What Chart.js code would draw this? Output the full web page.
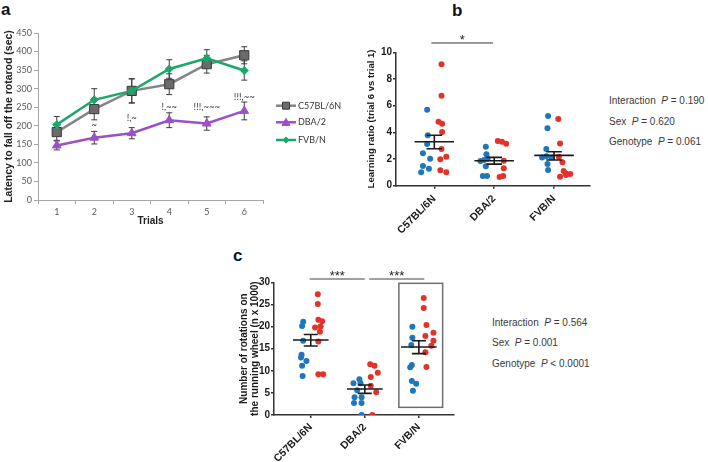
<!DOCTYPE html>
<html>
<head>
<meta charset="utf-8">
<script src="https://cdn.jsdelivr.net/npm/chart.js@4.4.1/dist/chart.umd.min.js"></script>
<style>
  body { margin: 0; background: #fff; width: 708px; height: 462px; position: relative; overflow: hidden; font-family: "Liberation Sans", Arial, sans-serif; }
  canvas { position: absolute; }
  .lab { position: absolute; font-weight: bold; font-size: 17px; line-height: 17px; color: #111; }
  .stat { position: absolute; font-size: 10px; line-height: 12px; color: #3a3a3a; white-space: pre; }
</style>
</head>
<body>
<div class="lab" style="left:1px;top:1px">a</div>
<div class="lab" style="left:452px;top:2px">b</div>
<div class="lab" style="left:233px;top:247px">c</div>

<canvas id="rotarod" width="360" height="235" style="left:0;top:0"></canvas>
<canvas id="ratio" width="244" height="230" style="left:356px;top:20px"></canvas>
<canvas id="wheel" width="254" height="212" style="left:226px;top:250px"></canvas>

<div class="stat" style="left:609px;top:95px">Interaction  <i>P</i> = 0.190</div>
<div class="stat" style="left:609px;top:116px">Sex  <i>P</i> = 0.620</div>
<div class="stat" style="left:609px;top:136px">Genotype  <i>P</i> = 0.061</div>

<div class="stat" style="left:492px;top:317px">Interaction  <i>P</i> = 0.564</div>
<div class="stat" style="left:492px;top:337px">Sex  <i>P</i> = 0.001</div>
<div class="stat" style="left:492px;top:358px">Genotype  <i>P</i> &lt; 0.0001</div>

<script>
// ---- data ----
const trials = ["1", "2", "3", "4", "5", "6"];
const c57Latency = [183, 245, 294, 312, 366, 390];
const c57LatencyErr = [22, 29, 33, 28, 24, 23];
const dbaLatency = [147, 168, 180, 215, 206, 240];
const dbaLatencyErr = [12, 17, 15, 20, 18, 24];
const fvbLatency = [203, 270, 294, 353, 382, 349];
const fvbLatencyErr = [22, 30, 32, 25, 23, 26];
const dbaMarks = ["", "~", "!,~", "!,~~", "!!!,~~~", "!!!,~~"];
const dbaMarkLevel = [0, 202, 221, 251, 251, 278];

const genotypes = ["C57BL/6N", "DBA/2", "FVB/N"];

// learning ratio (panel b), blue and red dots per genotype, with horizontal jitter
const ratioBlue = [
  [5.7, 3.78, 3.12, 2.43, 2.02, 1.48, 1.27, 1.0],
  [2.92, 2.35, 2.02, 1.93, 1.85, 1.45, 0.72, 0.72],
  [5.22, 4.3, 2.75, 2.2, 2.12, 2.12, 1.62, 1.18],
];
const ratioBlueJitter = [
  [-0.12, -0.11, -0.12, -0.19, -0.07, -0.19, -0.09, -0.22],
  [-0.14, -0.13, -0.11, -0.17, -0.23, -0.14, -0.19, -0.12],
  [-0.1, -0.11, -0.13, -0.13, -0.2, -0.04, -0.11, -0.1],
];
const ratioRed = [
  [9.1, 6.75, 4.8, 4.65, 4.02, 2.75, 2.17, 1.98, 1.15, 1.0],
  [3.35, 3.3, 3.15, 1.87, 1.3, 0.73, 0.65],
  [5.0, 3.17, 2.17, 1.75, 1.1, 0.93, 0.87, 0.8, 0.68],
];
const ratioRedJitter = [
  [0.12, 0.12, 0.07, 0.13, 0.13, 0.12, 0.2, 0.1, 0.1, 0.2],
  [0.06, 0.13, 0.2, 0.16, 0.16, 0.15, 0.09],
  [0.07, 0.1, 0.08, 0.14, 0.16, 0.19, 0.27, 0.2, 0.1],
];
const ratioMean = [3.3, 1.87, 2.27];
const ratioSemHi = [3.78, 2.12, 2.55];
const ratioSemLo = [2.77, 1.62, 1.93];

// running wheel (panel c)
const wheelBlue = [
  [21.1, 20.1, 16.8, 13.6, 13.0, 12.2, 11.15, 8.8],
  [8.06, 7.16, 7.16, 5.58, 3.99, 3.99, 2.71, 2.71, 0],
  [19.97, 17.48, 15.8, 11.3, 10.78, 7.69, 7.08, 5.5],
];
const wheelBlueJitter = [
  [-0.14, -0.16, -0.14, -0.17, -0.18, -0.08, -0.16, -0.15],
  [-0.1, -0.21, -0.08, -0.14, -0.19, -0.06, -0.2, -0.06, -0.06],
  [-0.12, -0.12, -0.14, -0.13, -0.16, -0.13, -0.05, -0.11],
];
const wheelRed = [
  [27.3, 25.1, 21.55, 21.2, 19.8, 20.0, 18.8, 16.6, 9.2, 9.2],
  [11.45, 11.15, 9.57, 8.59, 6.63, 5.12, 0],
  [26.45, 24.19, 20.35, 18.61, 17.86, 16.8, 15.67, 14.17, 10.85],
];
const wheelRedJitter = [
  [0.13, 0.13, 0.14, 0.21, 0.08, 0.18, 0.17, 0.14, 0.14, 0.23],
  [0.1, 0.18, 0.24, 0.11, 0.11, 0.21, 0.14],
  [0.09, 0.09, 0.14, 0.27, 0.12, 0.27, 0.23, 0.12, 0.14],
];
const wheelMean = [16.96, 5.88, 15.37];
const wheelSemHi = [18.2, 6.78, 16.8];
const wheelSemLo = [15.6, 4.9, 13.87];

const BLUE = "#1f76bd";
const RED = "#e2332a";
const SANS = "'Liberation Sans', Arial, sans-serif";

Chart.defaults.font.family = SANS;

// ---- panel a helpers ----
const errorBars = {
  id: "errorBars",
  beforeDatasetsDraw(chart) {
    const { ctx, scales: { x, y } } = chart;
    ctx.save();
    ctx.strokeStyle = "#3c3c3c";
    ctx.lineWidth = 1;
    chart.data.datasets.forEach((ds) => {
      ds.data.forEach((v, i) => {
        const px = x.getPixelForValue(i);
        const top = y.getPixelForValue(v + ds.err[i]);
        const bot = y.getPixelForValue(v - ds.err[i]);
        ctx.beginPath();
        ctx.moveTo(px, top); ctx.lineTo(px, bot);
        ctx.moveTo(px - 3, top); ctx.lineTo(px + 3, top);
        ctx.moveTo(px - 3, bot); ctx.lineTo(px + 3, bot);
        ctx.stroke();
      });
    });
    ctx.restore();
  },
};

const trialMarks = {
  id: "trialMarks",
  afterDatasetsDraw(chart) {
    const { ctx, scales: { x, y } } = chart;
    ctx.save();
    ctx.font = "9.5px Lato";
    ctx.fillStyle = "#404040";
    ctx.textAlign = "center";
    ctx.textBaseline = "middle";
    dbaMarks.forEach((m, i) => {
      if (!m) return;
      ctx.fillText(m, x.getPixelForValue(i), y.getPixelForValue(dbaMarkLevel[i]));
    });
    ctx.restore();
  },
};

function drawMarker(ctx, style, x, y, r) {
  ctx.beginPath();
  if (style === "rect") {
    ctx.rect(x - r, y - r, 2 * r, 2 * r);
  } else if (style === "triangle") {
    ctx.moveTo(x, y - r);
    ctx.lineTo(x + r, y + r * 0.8);
    ctx.lineTo(x - r, y + r * 0.8);
    ctx.closePath();
  } else {
    ctx.moveTo(x, y - r);
    ctx.lineTo(x + r, y);
    ctx.lineTo(x, y + r);
    ctx.lineTo(x - r, y);
    ctx.closePath();
  }
  ctx.fill();
  ctx.stroke();
}

const lineLegend = {
  id: "lineLegend",
  afterDraw(chart, args, opts) {
    const { ctx } = chart;
    ctx.save();
    ctx.font = "9px Lato";
    ctx.textBaseline = "middle";
    chart.data.datasets.forEach((ds, i) => {
      const yy = opts.rows[i];
      ctx.strokeStyle = ds.borderColor;
      ctx.lineWidth = 2.5;
      ctx.beginPath();
      ctx.moveTo(opts.x0, yy); ctx.lineTo(opts.x1, yy);
      ctx.stroke();
      ctx.fillStyle = ds.pointBackgroundColor;
      ctx.strokeStyle = ds.pointBorderColor;
      ctx.lineWidth = 1;
      drawMarker(ctx, ds.pointStyle, (opts.x0 + opts.x1) / 2, yy, opts.sizes[i]);
      ctx.fillStyle = "#333";
      ctx.fillText(ds.label, opts.textX, yy);
    });
    ctx.restore();
  },
};

new Chart(document.getElementById("rotarod"), {
  type: "line",
  data: {
    labels: trials,
    datasets: [
      {
        label: "C57BL/6N", data: c57Latency, err: c57LatencyErr,
        borderColor: "#858585", borderWidth: 2.5, tension: 0,
        pointStyle: "rect", pointRadius: 6.5, pointBackgroundColor: "#6b6b6b",
        pointBorderColor: "#3a3a3a", pointBorderWidth: 1, order: 2,
      },
      {
        label: "DBA/2", data: dbaLatency, err: dbaLatencyErr,
        borderColor: "#9b50c8", borderWidth: 2.5, tension: 0,
        pointStyle: "triangle", pointRadius: 5, pointBackgroundColor: "#9b50c8",
        pointBorderColor: "#9b50c8", pointBorderWidth: 1, order: 1,
      },
      {
        label: "FVB/N", data: fvbLatency, err: fvbLatencyErr,
        borderColor: "#1aa86a", borderWidth: 2.5, tension: 0,
        pointStyle: "rectRot", pointRadius: 4, pointBackgroundColor: "#1aa86a",
        pointBorderColor: "#1aa86a", pointBorderWidth: 1, order: 0,
      },
    ],
  },
  options: {
    responsive: false,
    animation: false,
    devicePixelRatio: 1,
    layout: { padding: { top: 33, right: 97, left: 0, bottom: 0 } },
    plugins: {
      legend: { display: false },
      tooltip: { enabled: false },
      lineLegend: { x0: 276, x1: 296, textX: 298, rows: [105.7, 122.3, 140], sizes: [3.5, 4, 3] },
    },
    scales: {
      x: {
        offset: true,
        grid: { offset: true, drawOnChartArea: false, tickLength: 4, color: "#a6a6a6" },
        border: { color: "#a6a6a6", width: 1 },
        ticks: { font: { family: "Lato", size: 9 }, color: "#595959", padding: 3 },
        title: { display: true, text: "Trials", font: { weight: "bold", size: 10 }, color: "#222", padding: { top: 0, bottom: 7.5 } },
        afterFit: (s) => { s.height = 35; },
      },
      y: {
        min: 0, max: 450,
        ticks: { stepSize: 50, font: { family: "Lato", size: 9 }, color: "#595959", padding: 2 },
        grid: { drawOnChartArea: false, tickLength: 4, color: "#a6a6a6" },
        border: { color: "#a6a6a6", width: 1 },
        title: { display: true, text: "Latency to fall off the rotarod (sec)", font: { weight: "bold", size: 10.5 }, color: "#222", padding: { top: 2.8, bottom: 0 } },
        afterFit: (s) => { s.width = 38; },
      },
    },
  },
  plugins: [errorBars, trialMarks, lineLegend],
});

// ---- panels b and c ----
const meanSem = {
  id: "meanSem",
  afterDatasetsDraw(chart, args, opts) {
    const { ctx, scales: { x, y } } = chart;
    ctx.save();
    ctx.strokeStyle = "#1a1a1a";
    ctx.lineWidth = 1.6;
    opts.mean.forEach((m, g) => {
      const ym = y.getPixelForValue(m);
      const yh = y.getPixelForValue(opts.hi[g]);
      const yl = y.getPixelForValue(opts.lo[g]);
      ctx.beginPath();
      ctx.moveTo(x.getPixelForValue(g - 0.33), ym); ctx.lineTo(x.getPixelForValue(g + 0.33), ym);
      ctx.moveTo(x.getPixelForValue(g), yh); ctx.lineTo(x.getPixelForValue(g), yl);
      ctx.moveTo(x.getPixelForValue(g - 0.13), yh); ctx.lineTo(x.getPixelForValue(g + 0.13), yh);
      ctx.moveTo(x.getPixelForValue(g - 0.13), yl); ctx.lineTo(x.getPixelForValue(g + 0.13), yl);
      ctx.stroke();
    });
    ctx.restore();
  },
};

const sigBars = {
  id: "sigBars",
  afterDraw(chart, args, opts) {
    const { ctx, scales: { x, y } } = chart;
    ctx.save();
    opts.bars.forEach(([from, to, lvl, text]) => {
      const yy = y.getPixelForValue(lvl);
      const x0 = x.getPixelForValue(from);
      const x1 = x.getPixelForValue(to);
      ctx.strokeStyle = opts.color;
      ctx.lineWidth = opts.width;
      ctx.beginPath();
      ctx.moveTo(x0, yy); ctx.lineTo(x1, yy);
      ctx.stroke();
      ctx.fillStyle = "#222";
      ctx.font = "13px " + SANS;
      ctx.textAlign = "center";
      ctx.textBaseline = "alphabetic";
      ctx.fillText(text, (x0 + x1) / 2, yy + 1);
    });
    ctx.restore();
  },
};

const frameBox = {
  id: "frameBox",
  afterDraw(chart, args, opts) {
    if (!opts.box) return;
    const { ctx, scales: { x, y } } = chart;
    const [gx0, gx1, gy0, gy1] = opts.box;
    ctx.save();
    ctx.strokeStyle = "#6e6e6e";
    ctx.lineWidth = 1.5;
    const l = x.getPixelForValue(gx0), r = x.getPixelForValue(gx1);
    const t = y.getPixelForValue(gy1), b = y.getPixelForValue(gy0);
    ctx.strokeRect(l, t, r - l, b - t);
    ctx.restore();
  },
};

function dotPoints(vals, jitter) {
  const pts = [];
  vals.forEach((group, g) => group.forEach((v, i) => pts.push({ x: g + jitter[g][i], y: v })));
  return pts;
}

function dotChart(id, cfg) {
  return new Chart(document.getElementById(id), {
    type: "scatter",
    data: {
      datasets: [
        { data: dotPoints(cfg.blue, cfg.blueJitter), backgroundColor: BLUE, pointRadius: 3, pointBorderWidth: 0 },
        { data: dotPoints(cfg.red, cfg.redJitter), backgroundColor: RED, pointRadius: 3, pointBorderWidth: 0 },
      ],
    },
    options: {
      responsive: false,
      animation: false,
      devicePixelRatio: 1,
      layout: { padding: { top: cfg.padTop, right: cfg.padRight, left: 0, bottom: 0 } },
      plugins: {
        legend: { display: false },
        tooltip: { enabled: false },
        meanSem: { mean: cfg.mean, hi: cfg.hi, lo: cfg.lo },
        sigBars: { bars: cfg.bars, color: cfg.barColor, width: cfg.barWidth },
        frameBox: { box: cfg.box },
      },
      scales: {
        x: {
          type: "linear",
          min: cfg.xMin, max: cfg.xMax,
          afterBuildTicks: (s) => { s.ticks = [0, 1, 2].map((v) => ({ value: v })); },
          ticks: {
            autoSkip: false, minRotation: 45, maxRotation: 45, padding: cfg.labelPad,
            font: { weight: "bold", size: 10.5 }, color: "#1a1a1a",
            callback: (v) => genotypes[v],
          },
          grid: { drawOnChartArea: false, tickLength: 3, color: "#333", lineWidth: 1.5 },
          border: { color: "#333", width: 1.5 },
          afterFit: (s) => { s.height = cfg.xHeight; },
        },
        y: {
          min: 0, max: cfg.yMax,
          ticks: { stepSize: cfg.yStep, font: { weight: "bold", size: 10 }, color: "#1a1a1a", padding: 1 },
          grid: { drawOnChartArea: false, tickLength: 3, color: "#333", lineWidth: 1.5 },
          border: { color: "#333", width: 1.5 },
          title: { display: true, text: cfg.yTitle, font: { weight: "bold", size: cfg.titleSize, lineHeight: 1.1 }, color: "#1a1a1a", padding: { top: cfg.titlePad, bottom: 0 } },
          afterFit: (s) => { s.width = cfg.yWidth; },
        },
      },
    },
    plugins: [meanSem, sigBars, frameBox],
  });
}

dotChart("ratio", {
  blue: ratioBlue, blueJitter: ratioBlueJitter, red: ratioRed, redJitter: ratioRedJitter,
  mean: ratioMean, hi: ratioSemHi, lo: ratioSemLo,
  bars: [[-0.05, 0.98, 10.7, "*"]], barColor: "#333", barWidth: 1,
  xMin: -0.64, xMax: 2.6, yMax: 10, yStep: 2,
  yTitle: "Learning ratio (trial 6 vs trial 1)", titleSize: 9.5, titlePad: 10.5,
  yWidth: 40, xHeight: 64.3, padTop: 32.3, padRight: 10, labelPad: 4,
});

dotChart("wheel", {
  blue: wheelBlue, blueJitter: wheelBlueJitter, red: wheelRed, redJitter: wheelRedJitter,
  mean: wheelMean, hi: wheelSemHi, lo: wheelSemLo,
  bars: [[-0.02, 1.0, 30.75, "***"], [1.08, 2.1, 30.75, "***"]], barColor: "#808080", barWidth: 1.5,
  box: [1.63, 2.44, 1.73, 29.77],
  xMin: -0.68, xMax: 2.65, yMax: 30, yStep: 5,
  yTitle: ["Number of rotations on", "the running wheel (n x 1000)"], titleSize: 10, titlePad: 12.5,
  yWidth: 48, xHeight: 47, padTop: 32.3, padRight: 26, labelPad: 3,
});
</script>
</body>
</html>
